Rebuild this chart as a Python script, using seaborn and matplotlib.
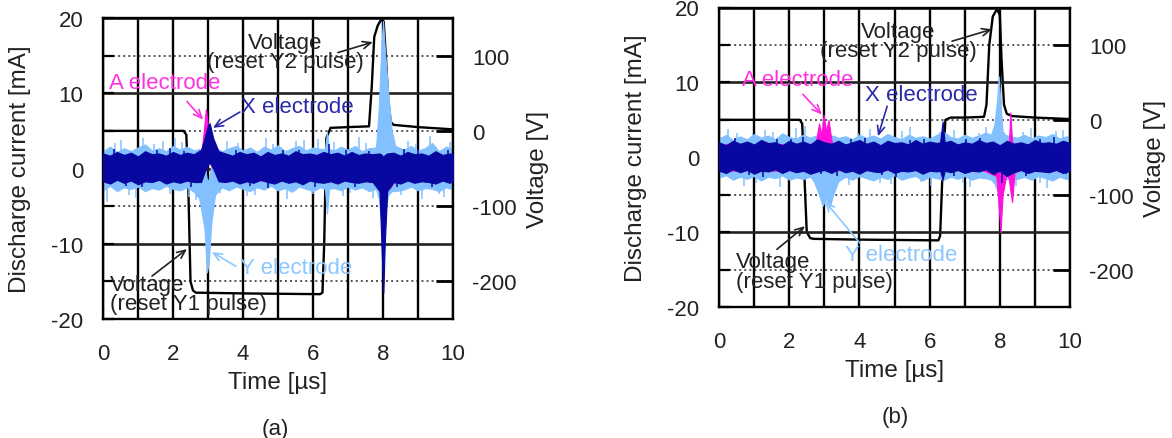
import matplotlib
matplotlib.use("Agg")
import matplotlib.pyplot as plt
from matplotlib.ticker import MultipleLocator
import seaborn as sns

# ---------------- data ----------------
# Panel (a)
Ya_t = [0.0, 0.2, 0.4, 0.6, 0.8, 1.0, 1.2, 1.4, 1.6, 1.8, 2.0, 2.2, 2.4, 2.6,
        2.75, 2.9, 2.97, 3.02, 3.1, 3.2,
        3.4, 3.6, 3.8, 4.0, 4.2, 4.4, 4.6, 4.8, 5.0, 5.2, 5.4, 5.6, 5.8, 6.0, 6.2,
        6.34, 6.4, 6.46,
        6.6, 6.8, 7.0, 7.2, 7.4, 7.6, 7.8,
        7.88, 7.95, 8.0, 8.05, 8.15, 8.25, 8.35,
        8.6, 8.8, 9.0, 9.2, 9.4, 9.6, 9.8, 10.0]
Ya_hi = [2.3, 2.9, 2.2, 2.7, 2.3, 2.8, 3.2, 2.4, 2.7, 2.3, 3.0, 2.5, 2.9, 2.4,
         2.6, 0.5, -1.5, -1.5, 0.5, 2.7,
         2.3, 2.7, 3.0, 2.4, 2.8, 2.2, 2.9, 2.5, 3.1, 2.3, 2.7, 3.0, 2.4, 2.8, 2.6,
         2.6, 4.8, 2.6,
         2.4, 2.9, 2.5, 3.0, 2.3, 2.7, 2.8,
         8.0, 16.0, 19.6, 16.0, 10.0, 5.0, 3.0,
         2.5, 3.0, 2.4, 2.7, 3.4, 2.3, 2.9, 2.6]
Ya_lo = [-2.9, -2.3, -3.0, -2.5, -2.7, -2.4, -3.0, -2.6, -2.8, -2.3, -2.7, -2.9, -2.5, -3.1,
         -4.0, -8.0, -13.8, -12.5, -7.0, -3.5,
         -2.5, -2.9, -2.4, -2.7, -3.0, -2.5, -2.8, -2.3, -2.9, -2.6, -3.1, -2.4, -2.7, -3.0, -2.5,
         -2.7, -6.0, -2.7,
         -2.6, -2.9, -2.4, -2.8, -2.5, -3.0, -2.7,
         -4.0, -7.0, -8.0, -6.0, -3.5, -3.0, -3.0,
         -2.8, -2.4, -2.9, -2.6, -2.7, -3.0, -2.5, -2.8]
Ya_wt = [0.1, 0.35, 0.5, 0.75, 0.95, 1.15, 1.45, 1.7, 1.9, 2.05, 2.25, 2.45, 2.65,
         3.35, 3.55, 3.85, 4.1, 4.35, 4.65, 4.85, 5.25, 5.5, 5.75, 6.0, 6.15,
         6.6, 6.85, 7.05, 7.3, 7.5, 7.7, 8.5, 8.7, 8.95, 9.1, 9.35, 9.6, 9.75, 9.9]
Ya_wv = [-4.5, 3.4, 3.8, -3.5, -3.9, 4.1, 3.3, 3.6, -3.4, 4.0, 3.5, -3.8, -4.2,
         -3.3, 3.7, 3.4, -3.6, -3.5, 4.0, 3.3, -4.1, 3.6, 3.8, -3.4, 3.9,
         3.5, -3.7, -3.3, 4.2, 3.4, -3.9, -3.5, 3.6, 3.3, -4.0, 4.3, -3.4, -3.8, 3.5]

Xa_t = [0.0, 0.2, 0.4, 0.6, 0.8, 1.0, 1.2, 1.4, 1.6, 1.8, 2.0, 2.2, 2.4, 2.6,
        2.8, 2.9, 3.0, 3.05, 3.15, 3.3,
        3.5, 3.7, 3.9, 4.1, 4.3, 4.5, 4.7, 4.9, 5.1, 5.3, 5.5, 5.7, 5.9, 6.1, 6.3,
        6.5, 6.7, 6.9, 7.1, 7.3, 7.5, 7.7,
        7.9, 7.97, 8.01, 8.05, 8.12,
        8.3, 8.5, 8.7, 8.9, 9.1, 9.3, 9.5, 9.7, 9.9, 10.0]
Xa_hi = [2.0, 1.7, 2.2, 1.8, 2.1, 1.6, 2.3, 1.9, 2.0, 1.7, 2.2, 1.8, 2.1, 1.9,
         2.5, 4.0, 5.8, 6.0, 4.0, 2.3,
         2.0, 1.7, 2.2, 1.9, 2.1, 1.6, 2.2, 1.8, 2.0, 1.7, 2.3, 1.9, 2.0, 1.8, 2.2,
         1.9, 2.1, 1.7, 2.2, 1.8, 2.0, 1.9,
         2.0, 1.8, 1.5, 1.8, 2.0,
         2.1, 1.7, 2.2, 1.9, 2.0, 1.7, 2.3, 1.8, 2.0, 1.9]
Xa_lo = [-1.7, -2.0, -1.5, -1.9, -1.6, -2.1, -1.7, -1.8, -1.5, -2.0, -1.7, -1.9, -1.6, -1.8,
         -1.8, -0.5, 0.5, 0.8, 0.0, -1.7,
         -1.8, -1.6, -2.0, -1.7, -1.9, -1.5, -1.8, -2.0, -1.6, -1.9, -1.7, -2.1, -1.6, -1.8, -1.9,
         -1.7, -2.0, -1.6, -1.8, -1.9, -1.7, -1.8,
         -3.0, -12.0, -16.5, -10.0, -3.0,
         -1.8, -2.0, -1.6, -1.9, -1.7, -1.8, -2.0, -1.6, -1.9, -1.7]
Xa_wt = [0.3, 0.65, 1.1, 1.55, 1.9, 2.3, 2.5, 3.8, 4.2, 4.7, 5.15, 5.6, 6.05, 6.45,
         6.95, 7.2, 7.6, 8.4, 8.6, 9.0, 9.4, 9.85]
Xa_wv = [2.6, -2.3, -2.5, 2.4, 2.7, 2.3, -2.4, 2.5, -2.3, -2.6, 2.5, 2.4, -2.4, 3.2,
         2.4, -2.5, 2.3, -2.4, 2.6, 2.4, -2.4, 2.5]

Aa_t = [0.0, 0.5, 1.0, 1.5, 2.0, 2.5, 2.8, 2.88, 2.94, 2.98, 3.04, 3.2, 3.35,
        3.5, 4.0, 4.5, 5.0, 5.5, 6.0, 6.5, 7.0, 7.5,
        7.9, 7.98, 8.03, 8.1, 8.2, 8.28, 8.4, 8.7, 9.0, 9.5, 10.0]
Aa_hi = [1.5, 1.4, 1.6, 1.5, 1.4, 1.6, 1.6, 5.0, 7.9, 6.5, 2.0, 1.5, 1.5,
         1.5, 1.4, 1.6, 1.5, 1.4, 1.6, 1.5, 1.4, 1.6,
         1.5, 1.2, 1.0, 1.4, 1.5, 1.5, 1.6, 1.5, 1.4, 1.6, 1.5]
Aa_lo = [-1.5, -1.4, -1.6, -1.5, -1.4, -1.6, -1.5, 0.0, 0.2, 0.5, 0.8, -0.5, -1.5,
         -1.5, -1.4, -1.6, -1.5, -1.4, -1.6, -1.5, -1.4, -1.6,
         -2.0, -8.0, -6.0, -2.5, -2.6, -2.0, -1.6, -1.5, -1.4, -1.6, -1.5]

Va_t = [0.0, 2.3, 2.38, 2.43, 2.5, 2.57, 2.65, 4.0, 6.2, 6.27, 6.32, 6.38, 6.5, 7.0,
        7.6, 7.68, 7.75, 7.85, 7.95, 8.02, 8.08, 8.15, 8.22, 8.3, 9.0, 10.0]
Va_v = [0, 0, -5, -60, -200, -212, -215, -216, -217, -215, -150, -10, 4, 5,
        6, 60, 125, 140, 148, 145, 100, 40, 12, 8, 5, 2]

# Panel (b)
Yb_t = [0.0, 0.2, 0.4, 0.6, 0.8, 1.0, 1.2, 1.4, 1.6, 1.8, 2.0, 2.2, 2.4, 2.6,
        2.7, 2.85, 2.95, 3.05, 3.15, 3.25, 3.4,
        3.6, 3.8, 4.0, 4.2, 4.4, 4.6, 4.8, 5.0, 5.2, 5.4, 5.6, 5.8, 6.0, 6.2, 6.4,
        6.6, 6.8, 7.0, 7.2, 7.4, 7.6,
        7.75, 7.85, 7.93, 7.97, 8.02, 8.08, 8.15, 8.3,
        8.5, 8.7, 8.9, 9.1, 9.3, 9.5, 9.7, 9.9, 10.0]
Yb_hi = [2.5, 3.0, 2.3, 2.8, 2.4, 3.1, 2.6, 2.9, 2.4, 3.2, 2.7, 2.5, 3.0, 2.6,
         2.8, 3.0, 2.6, 3.1, 2.7, 2.9, 2.6,
         2.8, 2.4, 3.0, 2.6, 2.9, 2.5, 3.1, 2.7, 2.4, 3.0, 2.6, 2.8, 2.5, 3.0, 3.4,
         2.7, 2.5, 3.0, 2.6, 2.9, 3.3,
         3.0, 4.5, 8.0, 10.8, 7.0, 3.5, 3.0, 2.8,
         2.6, 3.0, 2.5, 2.9, 2.7, 3.1, 2.5, 2.8, 2.6]
Yb_lo = [-2.7, -2.4, -3.0, -2.6, -2.9, -2.5, -3.1, -2.6, -2.8, -2.4, -3.0, -2.7, -2.9, -2.6,
         -3.2, -5.0, -6.5, -5.5, -6.8, -5.0, -3.2,
         -2.6, -3.0, -2.5, -2.8, -3.1, -2.6, -2.9, -2.4, -3.0, -2.7, -2.5, -3.1, -2.6, -2.8, -3.0,
         -2.6, -2.9, -2.5, -3.0, -2.7, -2.8,
         -3.0, -3.5, -4.5, -5.6, -5.0, -4.0, -3.0, -2.8,
         -2.9, -2.6, -3.0, -2.5, -2.8, -3.1, -2.6, -2.9, -2.7]
Yb_wt = [0.25, 0.5, 0.7, 1.05, 1.3, 1.55, 1.75, 2.2, 2.45, 3.7, 3.95, 4.3, 4.6, 4.9,
         5.2, 5.45, 5.75, 6.05, 6.3, 6.7, 6.95, 7.15, 7.4, 7.6, 8.45, 8.65, 8.9,
         9.15, 9.35, 9.6, 9.8]
Yb_wv = [3.8, 3.3, -3.9, -3.4, 3.6, 3.4, -4.0, 3.9, 4.2, -3.7, 3.3, 3.8, -3.4, -3.6,
         3.5, 4.0, -3.3, -3.9, 3.4, 3.7, -3.5, -4.0, 3.3, 4.1, -3.8, 3.4, 3.9,
         -3.4, -4.1, 3.5, 3.6]

Xb_t = [0.0, 0.2, 0.4, 0.6, 0.8, 1.0, 1.2, 1.4, 1.6, 1.8, 2.0, 2.2, 2.4, 2.6, 2.8, 3.0,
        3.2, 3.4, 3.6, 3.8, 4.0, 4.2, 4.4, 4.6, 4.8, 5.0, 5.2, 5.4, 5.6, 5.8, 6.0, 6.2,
        6.3, 6.37, 6.43,
        6.6, 6.8, 7.0, 7.2, 7.4, 7.6, 7.8, 8.0, 8.2, 8.4, 8.6, 8.8, 9.0, 9.2, 9.4, 9.6,
        9.8, 10.0]
Xb_hi = [2.0, 1.6, 2.2, 1.8, 2.1, 1.7, 2.3, 1.9, 2.0, 1.6, 2.2, 1.8, 2.1, 1.7, 2.4, 2.0,
         1.8, 2.2, 1.7, 2.0, 2.3, 1.8, 2.1, 1.6, 2.2, 1.9, 2.0, 1.7, 2.3, 1.8, 2.1, 1.9,
         2.0, 4.8, 2.0,
         2.2, 1.7, 2.0, 1.8, 2.3, 1.9, 2.1, 1.6, 2.2, 1.8, 2.0, 1.7, 2.3, 1.9, 2.0, 1.8,
         2.2, 1.9]
Xb_lo = [-1.8, -2.1, -1.6, -2.0, -1.7, -2.2, -1.8, -1.9, -1.6, -2.1, -1.7, -2.0, -1.8, -2.2,
         -1.9, -1.7, -2.1, -1.6, -2.0, -1.8, -2.2, -1.7, -1.9, -2.0, -1.6, -2.1, -1.8, -1.9,
         -1.7, -2.2, -1.8, -1.9,
         -1.8, -3.0, -1.8,
         -2.0, -1.7, -2.1, -1.8, -1.9, -1.6, -2.2, -1.8, -2.5, -2.0, -1.7, -2.1, -1.8, -1.9,
         -2.0, -1.7, -2.1, -1.8]
Xb_wt = [0.45, 0.85, 1.25, 1.65, 2.05, 2.4, 2.9, 3.35, 3.75, 4.15, 4.65, 5.05, 5.45,
         5.85, 6.7, 7.05, 7.45, 7.85, 8.05, 8.75, 9.15, 9.55, 9.9]
Xb_wv = [2.6, -2.4, -2.6, 2.4, 2.5, 2.7, -2.3, -2.5, 2.4, 2.6, -2.4, -2.7, 2.3,
         2.5, -2.5, 2.4, 2.6, -2.4, -3.5, -2.5, 2.4, 2.7, -2.3]

Ab_t = [0.0, 0.5, 1.0, 1.5, 2.0, 2.5, 2.75, 2.85, 2.92, 2.98, 3.05, 3.12, 3.22,
        3.5, 4.0, 4.5, 5.0, 5.5, 6.0, 6.5, 7.0, 7.5,
        7.9, 7.96, 8.02, 8.08, 8.2, 8.26, 8.3, 8.35, 8.42,
        8.6, 9.0, 9.5, 10.0]
Ab_hi = [1.7, 1.8, 1.6, 1.8, 1.7, 1.8, 1.8, 4.5, 3.0, 5.7, 3.5, 5.0, 1.8,
         1.7, 1.8, 1.6, 1.8, 1.7, 1.8, 1.6, 1.8, 1.7,
         1.8, 1.5, 0.0, 1.5, 1.8, 1.8, 6.0, 2.0, 1.8,
         1.7, 1.8, 1.6, 1.7]
Ab_lo = [-1.7, -1.8, -1.6, -1.8, -1.7, -1.8, -1.8, -1.0, -1.5, -0.8, -1.2, -1.0, -1.8,
         -1.7, -1.8, -1.6, -1.8, -1.7, -1.8, -1.6, -1.8, -1.7,
         -2.5, -6.0, -10.0, -5.0, -2.0, -3.0, -4.5, -6.0, -2.0,
         -1.7, -1.8, -1.6, -1.7]

Vb_t = [0.0, 2.3, 2.37, 2.42, 2.5, 2.6, 2.7, 4.0, 6.25, 6.3, 6.36, 6.45, 6.6, 7.0,
        7.55, 7.62, 7.7, 7.8, 7.92, 8.0, 8.05, 8.12, 8.2, 8.35, 9.0, 10.0]
Vb_v = [0, 0, -5, -60, -150, -158, -159, -160, -161, -155, -80, 0, 3, 3,
        4, 20, 100, 138, 148, 140, 80, 20, 8, 5, 3, 1]

x_ticks = [0, 2, 4, 6, 8, 10]
i_ticks = [-20, -10, 0, 10, 20]
v_ticks = [-200, -100, 0, 100]

# ---------------- style ----------------
sns.set_theme(style="white")
plt.rcParams['font.family'] = ['Liberation Sans', 'DejaVu Sans']
plt.rcParams['axes.unicode_minus'] = False

C_Y = '#82c0ff'
C_X = '#0808a0'
C_A = '#ff10dc'
C_Y_TXT = '#8cc6ff'
C_X_TXT = '#2a2aa8'
C_A_TXT = '#ff30e0'
TXT = '#222222'
FS = 16
FL = 17.5

fig = plt.figure(figsize=(11.72, 4.39), dpi=100)
ax_a = fig.add_axes([103 / 1172, 1 - 320 / 439, 350 / 1172, 301 / 439])
ax_b = fig.add_axes([719 / 1172, 1 - 308 / 439, 351 / 1172, 299.5 / 439])


def draw_panel(ax, Y, X, A, V, Yw, Xw):
    ax2 = ax.twinx()
    ax.set_zorder(2)
    ax2.set_zorder(1)
    ax.patch.set_visible(False)

    # voltage on the right axis
    sns.lineplot(x=V[0], y=V[1], ax=ax2, color='black', lw=1.7,
                 estimator=None, sort=False)
    ax2.set_ylim(-250, 150)
    ax2.set_yticks(v_ticks)
    ax2.yaxis.grid(True, color='#555555', linestyle=(0, (1, 1.6)), lw=1.4)
    ax2.tick_params(axis='y', direction='in', length=12, width=2,
                    labelsize=FS, pad=14, colors='black', labelcolor=TXT)
    ax2.set_ylabel('Voltage [V]', fontsize=FL, color=TXT)
    ax2.yaxis.set_label_coords(1.243, 0.5)
    ax2.yaxis.label.set_verticalalignment('center')
    for s in ax2.spines.values():
        s.set_visible(False)

    # currents on the left axis
    ax.fill_between(Y[0], Y[2], Y[1], color=C_Y, lw=0.8, zorder=2)
    ax.vlines(Yw[0], 0, Yw[1], color=C_Y, lw=1.1, zorder=2)
    ax.fill_between(A[0], A[2], A[1], color=C_A, lw=0.8, zorder=3)
    ax.fill_between(X[0], X[2], X[1], color=C_X, lw=0.8, zorder=4)
    ax.vlines(Xw[0], 0, Xw[1], color=C_X, lw=1.1, zorder=4)

    ax.set_xlim(0, 10)
    ax.set_ylim(-20, 20)
    ax.set_xticks(x_ticks)
    ax.set_yticks(i_ticks)
    ax.xaxis.set_minor_locator(MultipleLocator(1))
    ax.yaxis.set_minor_locator(MultipleLocator(5))
    ax.set_axisbelow(True)
    ax.xaxis.grid(True, which='both', color='black', lw=1.7)
    ax.yaxis.grid(True, which='major', color='#222222', lw=1.9)
    ax.tick_params(axis='both', which='both', direction='in', width=1.6,
                   labelsize=FS, colors='black', labelcolor=TXT)
    ax.tick_params(axis='y', which='both', length=8, pad=14)
    ax.tick_params(axis='x', which='both', length=0, pad=17)
    for s in ax.spines.values():
        s.set_visible(True)
        s.set_color('black')
        s.set_linewidth(1.7)
    ax.set_ylabel('Discharge current [mA]', fontsize=FL, color=TXT)
    ax.yaxis.set_label_coords(-0.237, 0.5)
    ax.yaxis.label.set_verticalalignment('center')
    ax.set_xlabel('Time [\u00b5s]', fontsize=FL, color=TXT)
    ax.xaxis.set_label_coords(0.5, -0.172)
    return ax2


draw_panel(ax_a, (Ya_t, Ya_hi, Ya_lo), (Xa_t, Xa_hi, Xa_lo), (Aa_t, Aa_hi, Aa_lo),
           (Va_t, Va_v), (Ya_wt, Ya_wv), (Xa_wt, Xa_wv))
draw_panel(ax_b, (Yb_t, Yb_hi, Yb_lo), (Xb_t, Xb_hi, Xb_lo), (Ab_t, Ab_hi, Ab_lo),
           (Vb_t, Vb_v), (Yb_wt, Yb_wv), (Xb_wt, Xb_wv))


def label(ax, txt, xy, color, ha='center'):
    ax.text(xy[0], xy[1], txt, color=color, fontsize=FS, ha=ha, va='center',
            zorder=6)


def arrow(ax, tail, head, color):
    ax.annotate('', xy=head, xytext=tail, zorder=6,
                arrowprops=dict(arrowstyle='->,head_length=0.5,head_width=0.22',
                                color=color, lw=1.2, shrinkA=0, shrinkB=0))


# annotations panel (a)
label(ax_a, 'Voltage', (5.2, 16.8), TXT)
label(ax_a, '(reset Y2 pulse)', (5.2, 14.2), TXT)
arrow(ax_a, (6.71, 15.4), (7.71, 16.8), TXT)
label(ax_a, 'A electrode', (1.77, 11.4), C_A_TXT)
arrow(ax_a, (2.4, 8.9), (2.86, 6.5), C_A_TXT)
label(ax_a, 'X electrode', (5.54, 8.2), C_X_TXT)
arrow(ax_a, (3.91, 7.5), (3.14, 5.4), C_X_TXT)
label(ax_a, 'Y electrode', (3.91, -13.1), C_Y_TXT, ha='left')
arrow(ax_a, (3.8, -13.0), (3.11, -11.1), C_Y_TXT)
label(ax_a, 'Voltage', (0.2, -15.4), TXT, ha='left')
label(ax_a, '(reset Y1 pulse)', (0.2, -18.0), TXT, ha='left')
arrow(ax_a, (1.4, -14.3), (2.4, -10.7), TXT)

# annotations panel (b)
label(ax_b, 'Voltage', (5.1, 16.8), TXT)
label(ax_b, '(reset Y2 pulse)', (5.1, 14.2), TXT)
arrow(ax_b, (6.64, 15.5), (7.78, 17.1), TXT)
label(ax_b, 'A electrode', (2.25, 10.4), C_A_TXT)
arrow(ax_b, (2.39, 8.4), (2.93, 5.7), C_A_TXT)
label(ax_b, 'X electrode', (5.75, 8.4), C_X_TXT)
arrow(ax_b, (4.79, 6.8), (4.53, 2.8), C_X_TXT)
label(ax_b, 'Y electrode', (3.59, -13.0), C_Y_TXT, ha='left')
arrow(ax_b, (4.02, -11.5), (3.02, -5.9), C_Y_TXT)
label(ax_b, 'Voltage', (0.48, -13.9), TXT, ha='left')
label(ax_b, '(reset Y1 pulse)', (0.48, -16.6), TXT, ha='left')
arrow(ax_b, (1.65, -12.3), (2.45, -9.2), TXT)

fig.text(275 / 1172, 1 - 430 / 439, '(a)', fontsize=FS, ha='center', va='center',
         color=TXT)
fig.text(895 / 1172, 1 - 418 / 439, '(b)', fontsize=FS, ha='center', va='center',
         color=TXT)

fig.savefig('out.png', dpi=100, facecolor='white')
